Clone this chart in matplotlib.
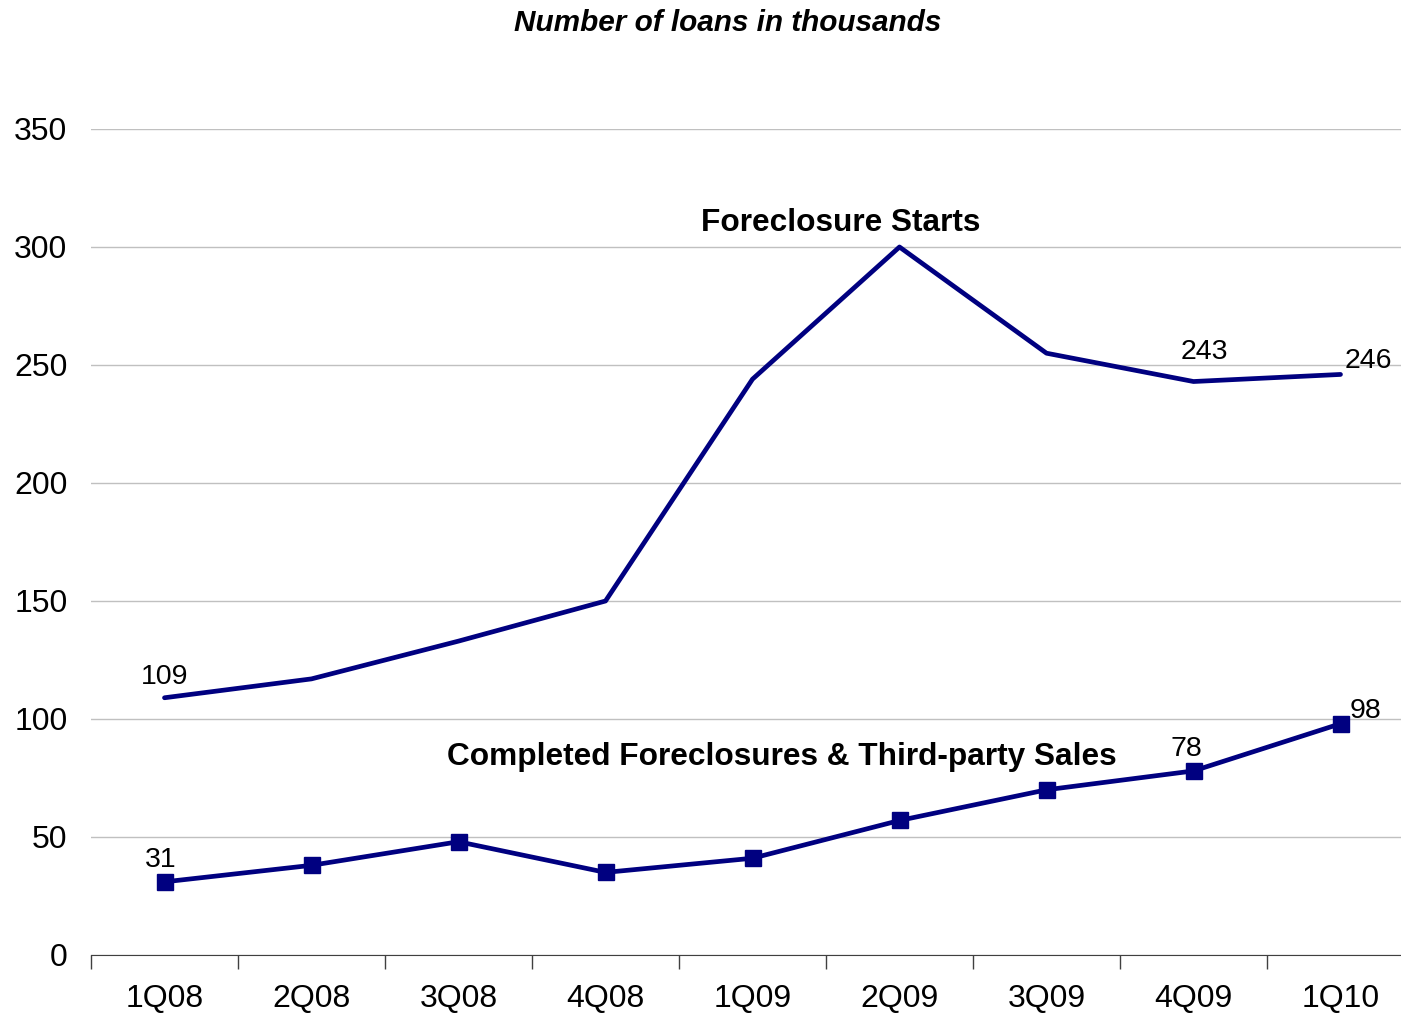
import matplotlib.pyplot as plt

plt.rcParams["font.family"] = ["Liberation Sans", "DejaVu Sans"]

QUARTERS = ["1Q08", "2Q08", "3Q08", "4Q08", "1Q09", "2Q09", "3Q09", "4Q09", "1Q10"]
STARTS = [109, 117, 133, 150, 244, 300, 255, 243, 246]
COMPLETED = [31, 38, 48, 35, 41, 57, 70, 78, 98]

NAVY = "#000080"


def main() -> None:
    fig = plt.figure(figsize=(14.01, 10.15), dpi=100)
    ax = fig.add_axes([91 / 1401, 60 / 1015, 1323 / 1401, 826 / 1015])

    x = list(range(len(QUARTERS)))
    ax.plot(x, STARTS, color=NAVY, lw=3.4, solid_capstyle="round", zorder=3)
    ax.plot(x, COMPLETED, color=NAVY, lw=3.4, marker="s", markersize=11.5, zorder=3)

    ax.set_xlim(-0.5, len(QUARTERS) - 0.5)
    ax.set_ylim(0, 350)
    ax.set_yticks(range(0, 351, 50))
    ax.yaxis.grid(True, color="#c0c0c0", lw=1)
    ax.set_axisbelow(True)

    # category labels centred, tick marks between categories
    ax.set_xticks(x)
    ax.set_xticklabels(QUARTERS)
    ax.set_xticks([i - 0.5 for i in range(len(QUARTERS) + 1)], minor=True)
    ax.tick_params(axis="x", which="major", length=0, labelsize=23, pad=21)
    ax.tick_params(axis="x", which="minor", length=10, width=1, color="#404040", direction="out")
    ax.tick_params(axis="y", length=0, labelsize=23, pad=17)

    for side in ("left", "right", "top"):
        ax.spines[side].set_visible(False)
    ax.spines["bottom"].set_color("#404040")

    lab = dict(fontsize=20.5, textcoords="offset points")
    ax.annotate(str(STARTS[0]), (0, STARTS[0]), xytext=(0, 15), ha="center", va="center", **lab)
    ax.annotate(str(STARTS[7]), (7, STARTS[7]), xytext=(8, 21), ha="center", va="center", **lab)
    ax.annotate(str(STARTS[8]), (8, STARTS[8]), xytext=(3, 10), ha="left", va="center", **lab)
    ax.annotate(str(COMPLETED[0]), (0, COMPLETED[0]), xytext=(-3, 16), ha="center", va="center", **lab)
    ax.annotate(str(COMPLETED[7]), (7, COMPLETED[7]), xytext=(-5, 16), ha="center", va="center", **lab)
    ax.annotate(str(COMPLETED[8]), (8, COMPLETED[8]), xytext=(18, 9), ha="center", va="center", **lab)

    ax.text(4.6, 310, "Foreclosure Starts", fontsize=22.8, fontweight="bold",
            ha="center", va="center")
    ax.text(4.2, 84, "Completed Foreclosures & Third-party Sales", fontsize=22.8,
            fontweight="bold", ha="center", va="center")

    fig.text(728 / 1401, 1 - 23 / 1015, "Number of loans in thousands", fontsize=21.4,
             fontweight="bold", fontstyle="italic", ha="center", va="center")

    fig.savefig("out.png", dpi=100)
    plt.close(fig)


if __name__ == "__main__":
    main()
